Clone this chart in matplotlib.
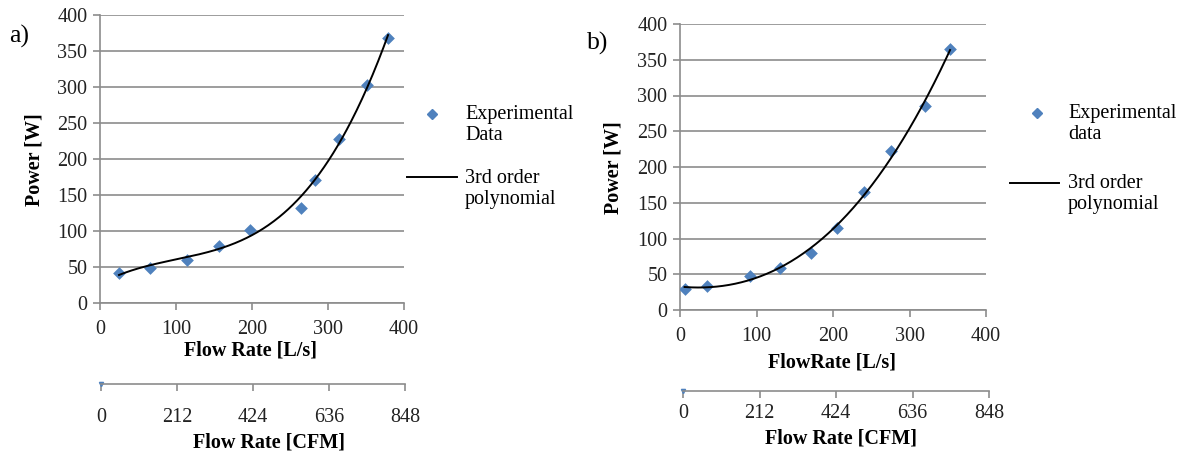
import numpy as np
import matplotlib
matplotlib.use("Agg")
import matplotlib.pyplot as plt
from matplotlib.lines import Line2D

plt.rcParams['font.family'] = ['Liberation Serif', 'DejaVu Serif']

# ---- data ----
flow_a = [25, 66, 114, 156, 197, 264, 283, 314, 351, 379]
power_a = [41, 49, 60, 79, 101, 132, 171, 227, 302, 368]
flow_b = [6, 35, 92, 131, 171, 205, 241, 276, 320, 353]
power_b = [30, 33, 48, 59, 80, 114, 165, 222, 285, 365]
x_ticks = [0, 100, 200, 300, 400]
y_ticks = [0, 50, 100, 150, 200, 250, 300, 350, 400]
cfm_ticks = [0, 212, 424, 636, 848]
legend_a = ["Experimental\nData", "3rd order\npolynomial"]
legend_b = ["Experimental\ndata", "3rd order\npolynomial"]

W, H = 1191, 457
fig = plt.figure(figsize=(W / 100, H / 100), dpi=100)

def px(l, t, r, b):
    return [l / W, 1 - b / H, (r - l) / W, (b - t) / H]

def ftext(x, y, s, **kw):
    return fig.text(x / W, 1 - y / H, s, **kw)

blue = '#4F81BD'
grid = '#8C8C8C'
FS = 14.5

def main_axes(rect, fx, fy, xlabel, ylabel_pos, xlabel_pos, leg_labels, leg_pos, panel, panel_pos):
    ax = fig.add_axes(px(*rect))
    ax.scatter(fx, fy, marker='D', s=42, color=blue, zorder=3, linewidths=0)
    c = np.polyfit(fx, fy, 3)
    xx = np.linspace(min(fx), max(fx), 300)
    ax.plot(xx, np.polyval(c, xx), color='black', lw=1.4, zorder=4)
    ax.set_xlim(0, 400)
    ax.set_ylim(0, 400)
    ax.set_xticks(x_ticks)
    ax.set_yticks(y_ticks)
    ax.yaxis.grid(True, color=grid, lw=1.2)
    ax.set_axisbelow(True)
    for s in ['top', 'right']:
        ax.spines[s].set_visible(False)
    for s in ['left', 'bottom']:
        ax.spines[s].set_color(grid)
        ax.spines[s].set_linewidth(1.2)
    ax.tick_params(axis='both', colors=grid, labelcolor='#222222', labelsize=FS, length=5, width=1.2)
    ax.tick_params(axis='x', pad=7)
    ax.tick_params(axis='y', pad=4)
    ftext(ylabel_pos[0], ylabel_pos[1], "Power [W]", fontsize=FS, fontweight='bold',
          rotation=90, ha='center', va='center')
    ftext(xlabel_pos[0], xlabel_pos[1], xlabel, fontsize=FS, fontweight='bold',
          ha='center', va='center')
    # legend
    mx, my, lx0, lx1, ly, tx, c1, c2 = leg_pos
    ftext(tx, c1, leg_labels[0], fontsize=FS, va='center', ha='left', linespacing=1.15)
    ftext(tx, c2, leg_labels[1], fontsize=FS, va='center', ha='left', linespacing=1.15)
    fig.add_artist(Line2D([mx / W], [1 - my / H], marker='D', markersize=5.5,
                          color=blue, lw=0, transform=fig.transFigure))
    fig.add_artist(Line2D([lx0 / W, lx1 / W], [1 - ly / H, 1 - ly / H],
                          color='black', lw=1.4, transform=fig.transFigure))
    ftext(panel_pos[0], panel_pos[1], panel, fontsize=FS + 4, va='center', ha='left')
    return ax

def cfm_axes(l, r, y, pad, label_pos):
    ax = fig.add_axes([l / W, 1 - y / H, (r - l) / W, 0.0001])
    ax.set_xlim(0, 848)
    ax.set_ylim(0, 1)
    ax.set_xticks(cfm_ticks)
    ax.set_yticks([])
    for s in ['top', 'right', 'left']:
        ax.spines[s].set_visible(False)
    ax.spines['bottom'].set_color(grid)
    ax.spines['bottom'].set_linewidth(1.2)
    ax.tick_params(axis='x', colors=grid, labelcolor='#222222', labelsize=FS, length=5, width=1.2, pad=pad)
    ax.plot([0], [0], marker='v', markersize=3, color=blue, clip_on=False)
    ax.patch.set_visible(False)
    ftext(label_pos[0], label_pos[1], "Flow Rate [CFM]", fontsize=FS,
          fontweight='bold', ha='center', va='center')
    return ax

main_axes((100, 14.5, 404, 303), flow_a, power_a, "Flow Rate [L/s]",
          (35, 160), (251, 350), legend_a,
          (432, 114, 407, 457, 177, 465, 125, 189), "a)", (9, 36))
main_axes((680, 24, 986, 310), flow_b, power_b, "FlowRate [L/s]",
          (613, 168), (832, 362), legend_b,
          (1037, 113, 1010, 1059, 183, 1068, 124, 194), "b)", (587, 43))
cfm_axes(101, 405, 384, 12, (269, 443))
cfm_axes(683, 989, 391, 4, (841, 438))

fig.savefig("out.png", dpi=100)
